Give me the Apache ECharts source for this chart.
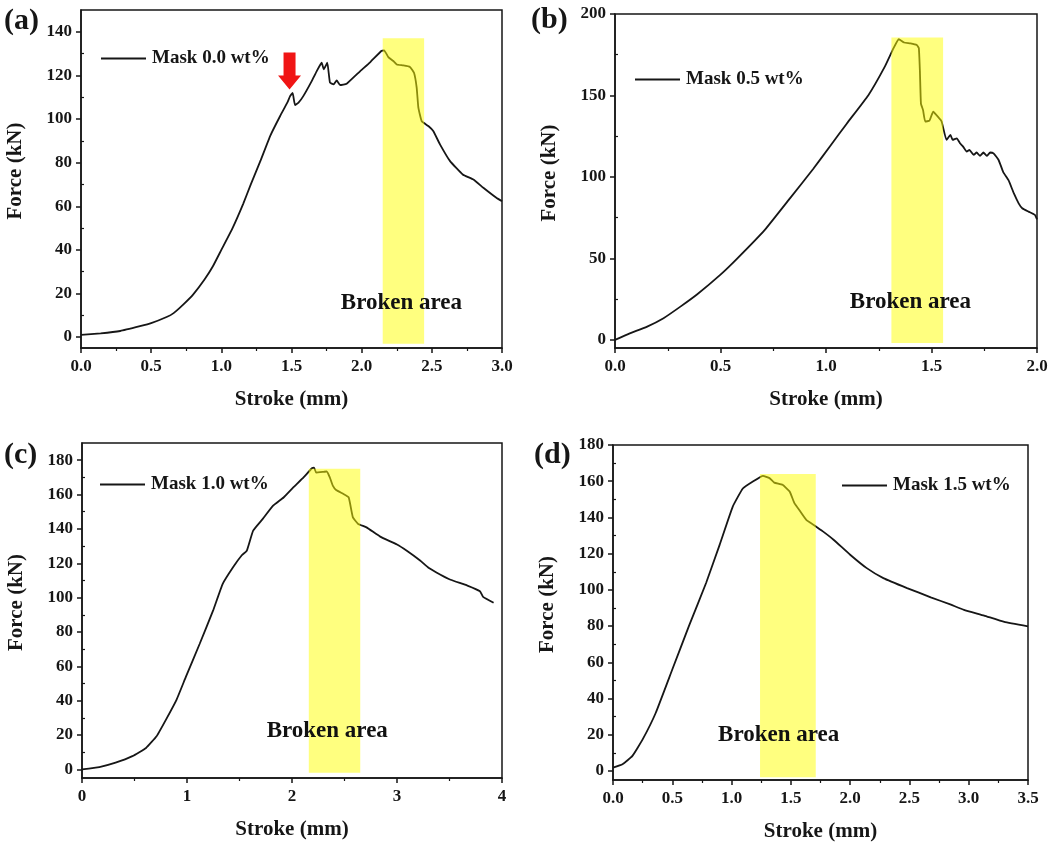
<!DOCTYPE html>
<html>
<head>
<meta charset="utf-8">
<script src="https://cdn.jsdelivr.net/npm/echarts@6/dist/echarts.min.js"></script>
<style>
  html, body { margin: 0; padding: 0; background: #fff; }
  #chart { width: 1058px; height: 845px; }
</style>
</head>
<body>
<div id="chart"></div>
<script>
// ---- data ----
const strokeA = [0, 0.14, 0.28, 0.42, 0.5, 0.61, 0.66, 0.73, 0.8, 0.88, 0.94, 1.0, 1.08, 1.155, 1.21, 1.28, 1.35, 1.42, 1.47, 1.49, 1.508, 1.525, 1.55, 1.584, 1.644, 1.68, 1.715, 1.73, 1.755, 1.774, 1.8, 1.822, 1.846, 1.893, 1.99, 2.06, 2.14, 2.16, 2.19, 2.226, 2.25, 2.297, 2.344, 2.373, 2.392, 2.404, 2.428, 2.475, 2.51, 2.558, 2.63, 2.72, 2.796, 2.867, 2.96, 3.0];
const forceA = [1.0, 1.7, 2.8, 5.0, 6.4, 9.2, 11, 15, 19.6, 26.4, 32.5, 40, 50, 61, 70, 81, 92.5, 101.5, 107.5, 110.5, 112, 106.4, 107.5, 110.5, 117.4, 122, 125.8, 122.8, 125.8, 116.7, 115.9, 117.7, 115.6, 116.2, 122, 126, 131.2, 131.5, 128.4, 126.6, 125, 124.6, 123.9, 121.2, 114.4, 105.2, 99, 96.8, 94.5, 88.4, 80.7, 74.6, 72.3, 68.5, 63.9, 62.3];

const strokeB = [0, 0.07, 0.15, 0.23, 0.31, 0.39, 0.5, 0.58, 0.71, 0.83, 0.94, 1.02, 1.1, 1.2, 1.28, 1.32, 1.345, 1.37, 1.4, 1.43, 1.44, 1.445, 1.45, 1.46, 1.47, 1.49, 1.508, 1.53, 1.548, 1.571, 1.59, 1.6, 1.62, 1.635, 1.65, 1.667, 1.68, 1.7, 1.714, 1.73, 1.746, 1.762, 1.778, 1.794, 1.818, 1.84, 1.865, 1.89, 1.913, 1.93, 1.96, 1.99, 2.0];
const forceB = [0, 4, 8, 13.3, 20.4, 28, 40, 50, 67.5, 87, 105, 119, 133, 150, 168, 179, 184.5, 182.5, 182, 181, 179, 165, 145, 141, 134, 134.5, 140, 137, 134, 122.7, 125.8, 122.7, 123.7, 120.7, 118.6, 115.5, 116.6, 113.5, 115, 112.9, 115, 112.9, 115, 114.5, 110.4, 103, 98, 90, 83.8, 80.8, 78.7, 76.7, 74];

const strokeC = [0, 0.165, 0.32, 0.48, 0.61, 0.71, 0.8, 0.9, 0.99, 1.12, 1.25, 1.34, 1.44, 1.52, 1.57, 1.63, 1.72, 1.82, 1.92, 2.01, 2.11, 2.19, 2.21, 2.23, 2.3, 2.33, 2.36, 2.39, 2.42, 2.49, 2.54, 2.58, 2.63, 2.71, 2.84, 3.0, 3.09, 3.22, 3.3, 3.41, 3.51, 3.67, 3.79, 3.82, 3.92];
const forceC = [0, 1.35, 3.9, 7.7, 12.5, 19.3, 29, 40.5, 54, 73, 92.7, 108, 117.8, 124.5, 127.4, 139, 145.7, 153.5, 158.3, 164, 170, 175.3, 175.7, 172.8, 173.2, 173.4, 170, 165, 162.6, 160.3, 158.3, 146.7, 142.9, 140.9, 135.5, 130.9, 127.4, 121.6, 117.4, 113.5, 110.4, 107, 103.7, 100.4, 97];

const strokeD = [0, 0.08, 0.164, 0.25, 0.36, 0.5, 0.64, 0.785, 0.9, 1.01, 1.095, 1.18, 1.265, 1.32, 1.36, 1.43, 1.49, 1.53, 1.58, 1.63, 1.69, 1.77, 1.86, 2.0, 2.14, 2.28, 2.48, 2.68, 2.85, 2.96, 3.13, 3.3, 3.5];
const forceD = [1.8, 3.7, 8.3, 17.4, 32, 56, 80, 103.8, 125, 146, 156, 159.8, 163, 161.7, 159.2, 158, 154.3, 147.9, 143.3, 138.7, 136, 132.3, 127.7, 119.4, 112, 106.5, 101, 95.9, 91.8, 89, 85.8, 82.3, 79.9];

const seriesNames = ['Mask 0.0 wt%', 'Mask 0.5 wt%', 'Mask 1.0 wt%', 'Mask 1.5 wt%'];
const panelLabels = ['(a)', '(b)', '(c)', '(d)'];

// y tick labels (major) and minor tick positions
const yTicksA = [0, 20, 40, 60, 80, 100, 120, 140];
const yTicksB = [0, 50, 100, 150, 200];
const yTicksC = [0, 20, 40, 60, 80, 100, 120, 140, 160, 180];
const yTicksD = [0, 20, 40, 60, 80, 100, 120, 140, 160, 180];
const yMinorA = [10, 30, 50, 70, 90, 110, 130];
const yMinorB = [25, 75, 125, 175];
const yMinorC = [10, 30, 50, 70, 90, 110, 130, 150, 170];
const yMinorD = [10, 30, 50, 70, 90, 110, 130, 150, 170];

// broken area: [x1, x2, y1, y2]
const brokenA = [2.15, 2.445, -3, 137];
const brokenB = [1.31, 1.555, -2, 185.5];
const brokenC = [2.16, 2.65, -2, 175];
const brokenD = [1.24, 1.71, -3.5, 164];

const FONT = "'Liberation Serif', 'Times New Roman', serif";
const INK = '#161616';

const panels = [
  { x: strokeA, y: forceA, xMax: 3.0, xStep: 0.5, yMin: -5, yMax: 150, ticks: yTicksA, minor: yMinorA, area: brokenA,
    grid: { left: 81, top: 10, width: 421, height: 338 }, textAt: [2.283, 15.7], legendAt: [101, 49], labelAt: [4, 6], dec: 1 },
  { x: strokeB, y: forceB, xMax: 2.0, xStep: 0.5, yMin: -5, yMax: 200, ticks: yTicksB, minor: yMinorB, area: brokenB,
    grid: { left: 615, top: 14, width: 422, height: 334 }, textAt: [1.40, 23.5], legendAt: [635, 70], labelAt: [531, 5], dec: 1 },
  { x: strokeC, y: forceC, xMax: 4, xStep: 1, yMin: -5, yMax: 190, ticks: yTicksC, minor: yMinorC, area: brokenC,
    grid: { left: 82, top: 443, width: 420, height: 335 }, textAt: [2.336, 22.2], legendAt: [100, 475], labelAt: [4, 440], dec: 0 },
  { x: strokeD, y: forceD, xMax: 3.5, xStep: 0.5, yMin: -5, yMax: 180, ticks: yTicksD, minor: yMinorD, area: brokenD,
    grid: { left: 613, top: 445, width: 415, height: 335 }, textAt: [1.397, 19.6], legendAt: [842, 476], labelAt: [534, 440], dec: 1 }
];

const tickLabel = { fontFamily: FONT, fontWeight: 'bold', fontSize: 17, color: INK };
const nameStyle = { fontFamily: FONT, fontWeight: 'bold', fontSize: 21, color: INK };
const axisLine = { show: true, onZero: false, lineStyle: { color: INK, width: 1.5 } };

const grids = [], xAxes = [], yAxes = [], series = [], legends = [], titles = [];

panels.forEach(function (p, i) {
  grids.push(Object.assign({ show: true, borderColor: INK, borderWidth: 1.5, backgroundColor: 'transparent', outerBoundsMode: 'none' }, p.grid));

  xAxes.push({
    type: 'value', gridIndex: i, min: 0, max: p.xMax, interval: p.xStep,
    name: 'Stroke (mm)', nameLocation: 'middle', nameGap: 41, nameTextStyle: nameStyle,
    axisLine: axisLine,
    axisTick: { show: true, length: 5, lineStyle: { color: INK, width: 1.5 } },
    minorTick: { show: true, splitNumber: 2, length: 3, lineStyle: { color: INK, width: 1.2 } },
    axisLabel: Object.assign({ margin: 10, formatter: function (v) { return v.toFixed(p.dec); } }, tickLabel),
    splitLine: { show: false }
  });

  // main y axis with labels
  yAxes.push({
    type: 'value', gridIndex: i, min: p.yMin, max: p.yMax,
    name: 'Force (kN)', nameLocation: 'middle', nameGap: 55,
    nameTextStyle: Object.assign({ padding: [0, 0, 0, 16] }, nameStyle),
    axisLine: axisLine,
    axisTick: { show: true, length: 5, customValues: p.ticks, lineStyle: { color: INK, width: 1.5 } },
    axisLabel: Object.assign({ margin: 9, customValues: p.ticks }, tickLabel),
    splitLine: { show: false }
  });
  // second y axis only for the minor ticks
  yAxes.push({
    type: 'value', gridIndex: i, min: p.yMin, max: p.yMax,
    axisLine: { show: false },
    axisTick: { show: true, length: 3, customValues: p.minor, lineStyle: { color: INK, width: 1.2 } },
    axisLabel: { show: false },
    splitLine: { show: false }
  });

  series.push({
    name: seriesNames[i], type: 'line', xAxisIndex: i, yAxisIndex: i * 2,
    data: p.x.map(function (v, k) { return [v, p.y[k]]; }),
    symbol: 'none', smooth: 0.12, z: 2,
    lineStyle: { color: INK, width: 1.8 }, itemStyle: { color: INK }
  });

  // yellow broken area band on top of the curve (semi transparent)
  series.push({
    type: 'custom', xAxisIndex: i, yAxisIndex: i * 2, z: 3, silent: true,
    data: [p.area],
    renderItem: function (params, api) {
      const a = api.coord([api.value(0), api.value(3)]);
      const b = api.coord([api.value(1), api.value(2)]);
      return { type: 'rect', shape: { x: a[0], y: a[1], width: b[0] - a[0], height: b[1] - a[1] },
        style: { fill: 'rgba(255,255,0,0.5)' } };
    }
  });

  series.push({
    type: 'scatter', xAxisIndex: i, yAxisIndex: i * 2, z: 4, silent: true,
    symbolSize: 1, data: [p.textAt], itemStyle: { opacity: 0 },
    label: { show: true, position: 'inside', formatter: 'Broken area', opacity: 1,
      fontFamily: FONT, fontWeight: 'bold', fontSize: 23, color: '#111' }
  });

  legends.push({
    data: [seriesNames[i]], left: p.legendAt[0], top: p.legendAt[1], padding: 0,
    icon: 'path://M0,0 L45,0 L45,2 L0,2 Z',
    itemWidth: 45, itemHeight: 2, itemGap: 0, selectedMode: false,
    itemStyle: { color: INK },
    textStyle: { fontFamily: FONT, fontWeight: 'bold', fontSize: 19, color: INK, padding: [0, 0, 0, 1] }
  });

  titles.push({
    text: panelLabels[i], left: p.labelAt[0], top: p.labelAt[1], padding: 0,
    textStyle: { fontFamily: FONT, fontWeight: 'bold', fontSize: 30, color: INK }
  });
});

// red arrow marking the first crack in panel (a)
series.push({
  type: 'scatter', xAxisIndex: 0, yAxisIndex: 0, z: 5, silent: true,
  symbol: 'path://M5.5,0 L17.5,0 L17.5,23 L23,23 L11.5,37 L0,23 L5.5,23 Z',
  symbolSize: [23, 37], itemStyle: { color: '#f01515', opacity: 1 },
  data: [[1.486, 122]]
});

const myChart = echarts.init(document.getElementById('chart'));
myChart.setOption({
  animation: false,
  backgroundColor: '#fff',
  title: titles,
  legend: legends,
  grid: grids,
  xAxis: xAxes,
  yAxis: yAxes,
  series: series
});
</script>
</body>
</html>
